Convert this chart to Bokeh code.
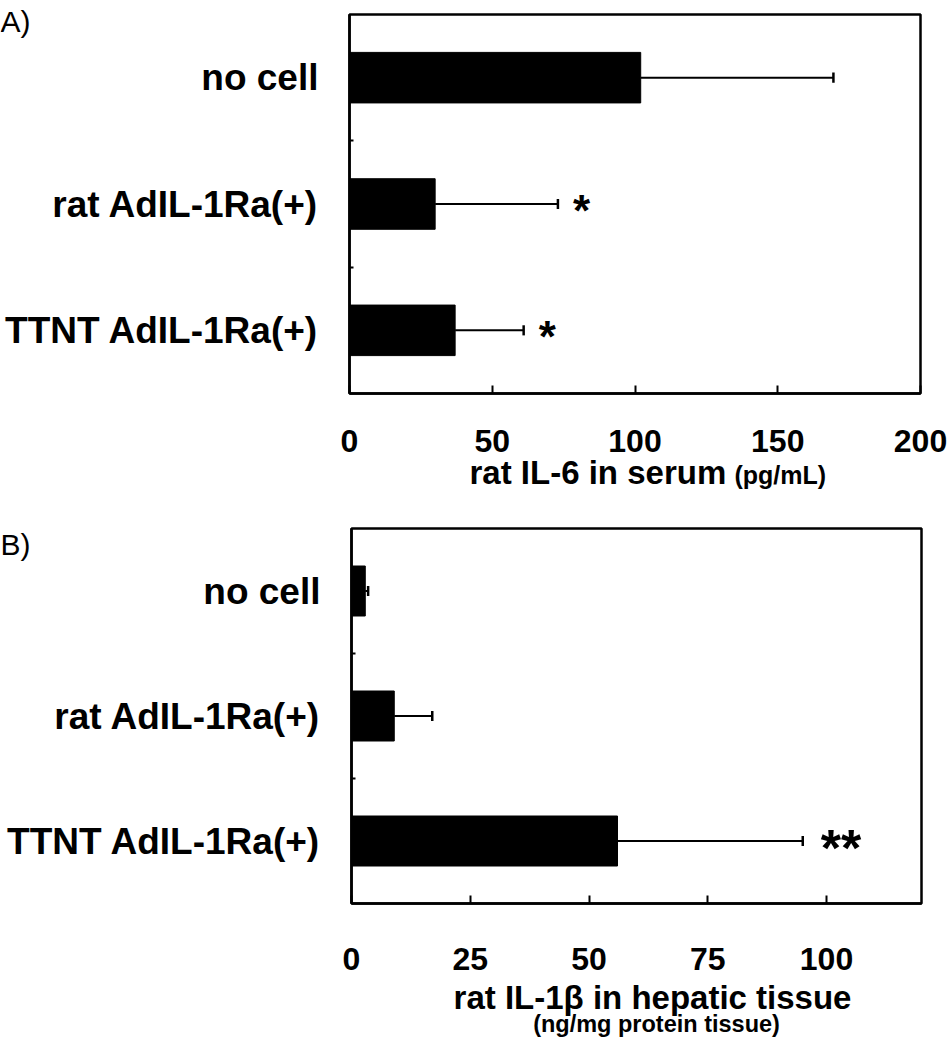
import numpy as np
from bokeh.plotting import figure
from bokeh.layouts import column
from bokeh.models import Range1d, FixedTicker, Label, LinearAxis
from bokeh.core.properties import value
from bokeh.embed import file_html
from bokeh.resources import INLINE

FONT = "Liberation Sans"

# ---------------- data ----------------
categories = ["no cell", "rat AdIL-1Ra(+)", "TTNT AdIL-1Ra(+)"]

il6_mean = [102, 30, 37]
il6_sd = [67.5, 43, 24]
il6_sig = ["", "*", "*"]
il6_ticks = [0, 50, 100, 150, 200]
il6_max = 200

il1b_mean = [2.9, 9, 56]
il1b_sd = [0.6, 8, 39]
il1b_sig = ["", "", "**"]
il1b_ticks = [0, 25, 50, 75, 100]
il1b_max = 120

W = 950


def panel(mean, sd, sig, ticks, xmax, height, box, standoff, star_size, star_dx, star_dy):
    """box = (left, right, top, bottom) of the plotting box in pixels."""
    bl, br, bt, bb = box
    n = len(categories)
    sx = (br - bl) / xmax
    sy = (bb - bt) / n
    p = figure(width=W, height=height,
               x_range=Range1d(-bl / sx, xmax + (W - br) / sx),
               y_range=Range1d(0.5 - (height - bb) / sy, n + 0.5 + bt / sy),
               x_axis_location=None, y_axis_location=None,
               output_backend="svg", toolbar_location=None,
               min_border=0, min_border_left=0, min_border_right=0,
               min_border_top=0, min_border_bottom=0)
    p.grid.visible = False
    p.outline_line_color = None
    p.background_fill_color = "white"
    p.border_fill_color = "white"

    ypos = np.arange(n, 0, -1).astype(float)
    mean = np.asarray(mean, float)
    upper = mean + np.asarray(sd, float)

    # plotting box (top & right edges; left/bottom coincide with axes)
    p.quad(left=0, right=xmax, bottom=0.5, top=n + 0.5, fill_color=None,
           line_color="black", line_width=2.5)

    p.hbar(y=ypos, left=0, right=mean, height=0.4, fill_color="black", line_color="black")
    p.segment(x0=mean, y0=ypos, x1=upper, y1=ypos, line_color="black", line_width=2)
    p.segment(x0=upper, y0=ypos - 0.04, x1=upper, y1=ypos + 0.04, line_color="black", line_width=2.5)
    p.text(x=upper, y=ypos, text=sig, text_font=value(FONT), text_font_size=f"{star_size}px",
           text_font_style="bold", text_align="left", text_baseline="alphabetic",
           x_offset=star_dx, y_offset=star_dy, text_color="black")

    # y axis with category labels
    ya = LinearAxis(fixed_location=0, bounds=(0.5, n + 0.5))
    ya.ticker = FixedTicker(ticks=list(ypos), minor_ticks=list(ypos[:-1] - 0.5))
    ya.major_label_overrides = {int(v): c for v, c in zip(ypos, categories)}
    ya.major_label_text_font = FONT
    ya.major_label_text_font_size = "37px"
    ya.major_label_text_font_style = "bold"
    ya.major_label_text_color = "black"
    ya.major_label_standoff = 31
    ya.major_tick_in = 0
    ya.major_tick_out = 0
    ya.minor_tick_in = 4
    ya.minor_tick_out = 0
    ya.minor_tick_line_width = 2
    ya.minor_tick_line_color = "black"
    ya.axis_line_width = 2.5
    ya.axis_line_color = "black"
    p.add_layout(ya, "left")

    xa = LinearAxis(fixed_location=0.5, bounds=(0, xmax))
    xa.ticker = FixedTicker(ticks=ticks, minor_ticks=[])
    xa.major_label_text_font = FONT
    xa.major_label_text_font_size = "32px"
    xa.major_label_text_font_style = "bold"
    xa.major_label_text_color = "black"
    xa.major_label_standoff = standoff
    xa.major_tick_in = 8
    xa.major_tick_out = 0
    xa.major_tick_line_width = 2
    xa.major_tick_line_color = "black"
    xa.axis_line_width = 2.5
    xa.axis_line_color = "black"
    p.add_layout(xa, "below")

    px2x = lambda px: (px - bl) / sx
    py2y = lambda py: n + 0.5 - (py - bt) / sy
    return p, px2x, py2y


def label(p, x, y, text, size, bold=True, align="left", baseline="middle"):
    p.add_layout(Label(x=x, y=y, text=text, text_font=FONT, text_font_size=size,
                       text_font_style="bold" if bold else "normal",
                       text_align=align, text_baseline=baseline, text_color="black"))


# ---------------- panel A ----------------
pa, ax, ay = panel(il6_mean, il6_sd, il6_sig, il6_ticks, il6_max, 520,
                   (349, 920, 14, 393), 36, 44, 15, 6)
label(pa, ax(0), ay(4), "A)", "30px", bold=False, baseline="top")
label(pa, ax(469), ay(472), "rat IL-6 in serum", "33px")
label(pa, ax(734), ay(474), "(pg/mL)", "25px")

# ---------------- panel B ----------------
pb, bx, by = panel(il1b_mean, il1b_sd, il1b_sig, il1b_ticks, il1b_max, 528,
                   (351, 921, 8, 383), 44, 52, 18, 7)
label(pb, bx(0), by(7), "B)", "30px", bold=False, baseline="top")
label(pb, bx(652), by(477), "rat IL-1β in hepatic tissue", "33px", align="center")
label(pb, bx(656), by(503), "(ng/mg protein tissue)", "23.5px", align="center")

layout = column(pa, pb, spacing=0)
open("out.html", "w").write(file_html(layout, INLINE))
